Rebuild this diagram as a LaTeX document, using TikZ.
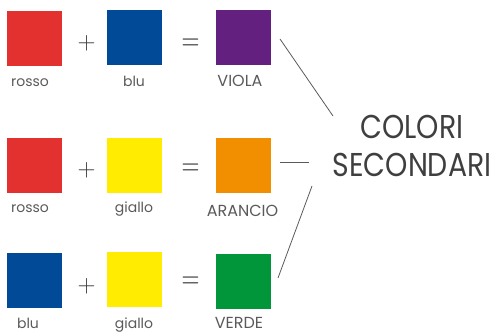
\documentclass[tikz,border=0pt]{standalone}
\usepackage{fontspec}
\setmainfont{Poppins}
\newfontfamily\titlefont[FakeStretch=0.86]{Poppins}
\usetikzlibrary{positioning}
\definecolor{rosso}{HTML}{E3312F}
\definecolor{blu}{HTML}{004A98}
\definecolor{viola}{HTML}{63207E}
\definecolor{giallo}{HTML}{FFEC00}
\definecolor{arancio}{HTML}{F18F00}
\definecolor{verde}{HTML}{009639}
\definecolor{grigio}{HTML}{5A5A5A}
\tikzset{sq/.style={minimum width=55pt, minimum height=55pt, inner sep=0pt, outer sep=0pt},
    lab/.style={anchor=base, inner sep=0pt, text=grigio, font=\fontsize{14}{14}\selectfont},
    LAB/.style={lab, font=\fontsize{16}{16}\selectfont},
    op/.style={inner sep=0pt, text=grigio!60!black, font=\fontsize{30}{30}\selectfont},
    conn/.style={draw=grigio, line width=0.8pt}}

\begin{document}
\begin{tikzpicture}[x=1pt, y=-1pt]
    \useasboundingbox (0,0) rectangle (500,334);
    % rosso + blu = viola
    \node[sq, fill=rosso] (A1) at (34.5,38.5) {};
    \node[sq, fill=blu] (B1) at (134.5,37.5) {};
    \node[sq, fill=viola] (C1) at (243,37.5) {};
    \node[op] (piu1) at (86.5,43) {$+$};
    \node[op, yscale=1.3] (uguale1) at (190.5,45) {$=$};
    \node[lab] (tA1) at (30,87) {rosso};
    \node[lab] (tB1) at (134,87) {blu};
    \node[LAB] (tC1) at (240,87) {VIOLA};
    % rosso + giallo = arancio
    \node[sq, fill=rosso] (A2) at (34.5,165.5) {};
    \node[sq, fill=giallo] (B2) at (134.5,165) {};
    \node[sq, fill=arancio] (C2) at (243.5,165.5) {};
    \node[op] (piu2) at (86.5,170) {$+$};
    \node[op, yscale=1.3] (uguale2) at (190.5,170) {$=$};
    \node[lab] (tA2) at (30,212) {rosso};
    \node[lab] (tB2) at (134,212) {giallo};
    \node[LAB] (tC2) at (242.5,216) {ARANCIO};
    % blu + giallo = verde
    \node[sq, fill=blu] (A3) at (34.5,280.5) {};
    \node[sq, fill=giallo] (B3) at (134.5,279.5) {};
    \node[sq, fill=verde] (C3) at (243.5,281.5) {};
    \node[op] (piu3) at (86.5,286.5) {$+$};
    \node[op, yscale=1.3] (uguale3) at (190.5,283) {$=$};
    \node[lab] (tA3) at (28,328) {blu};
    \node[lab] (tB3) at (134,328) {giallo};
    \node[LAB] (tC3) at (239,328) {VERDE};
    % titolo
    \node[anchor=base, inner sep=0pt, align=center, text=grigio!70!black,
        font=\titlefont\fontsize{33}{38}\selectfont] (titolo) at (412,176) {COLORI\\SECONDARI};
    \coordinate (p1) at (280,39);
    \coordinate (q1) at (333,116);
    \coordinate (p2) at (280,162);
    \coordinate (q2) at (309,162);
    \coordinate (p3) at (278,278);
    \coordinate (q3) at (312,186);
    \draw[conn] (p1) -- (q1);
    \draw[conn] (p2) -- (q2);
    \draw[conn] (p3) -- (q3);
\end{tikzpicture}
\end{document}
